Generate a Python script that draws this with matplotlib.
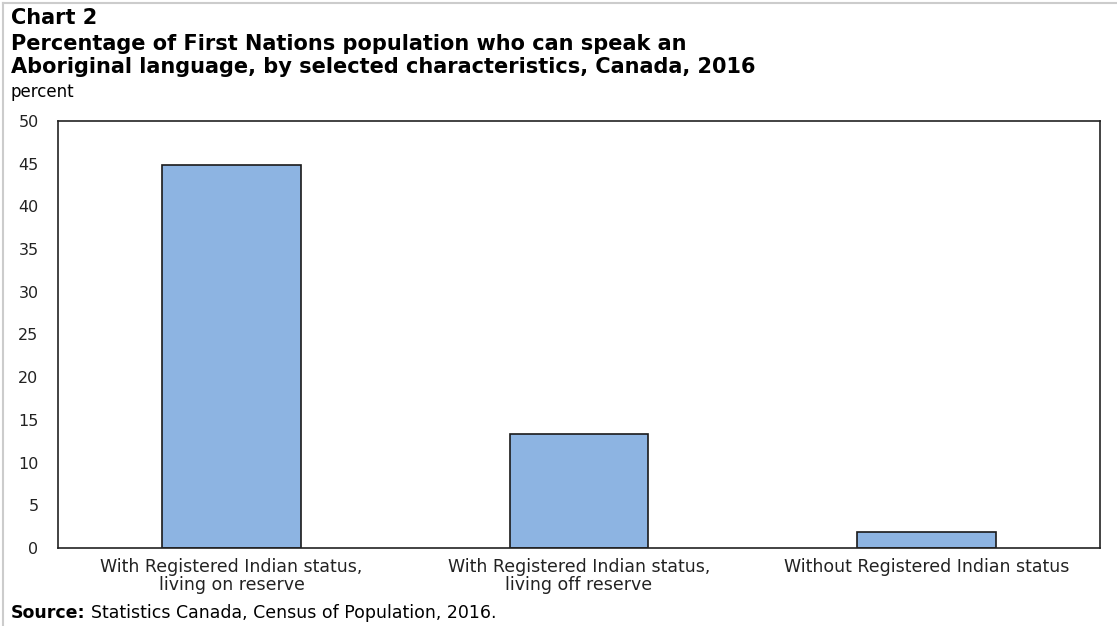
import matplotlib
matplotlib.use("Agg")
import matplotlib.pyplot as plt
import numpy as np

categories = ["With Registered Indian status,\nliving on reserve",
              "With Registered Indian status,\nliving off reserve",
              "Without Registered Indian status"]
values = [44.8, 13.3, 1.9]
yticks = [0, 5, 10, 15, 20, 25, 30, 35, 40, 45, 50]

plt.rcParams["font.family"] = ["DejaVu Sans"]

fig = plt.figure(figsize=(11.17, 6.26), dpi=100)
ax = fig.add_axes([58 / 1117, 1 - 548 / 626, 1042 / 1117, 427 / 626])

x = np.arange(len(categories))
ax.bar(x, values, width=0.4, color="#8DB4E2", edgecolor="#1a1a1a", linewidth=1.2)

ax.set_xlim(-0.5, len(categories) - 0.5)
ax.set_ylim(0, 50)
ax.set_yticks(yticks)
ax.set_xticks(x)
ax.set_xticklabels(categories, fontsize=12.5, color="#222222", linespacing=1.05)
ax.tick_params(axis="y", length=0, pad=14, labelsize=11.5, labelcolor="#222222")
ax.tick_params(axis="x", length=0, pad=7)
for s in ax.spines.values():
    s.set_color("#222222")
    s.set_linewidth(1.2)

fig.text(11 / 1117, 1 - 18 / 626, "Chart 2", fontsize=15, fontweight="bold", va="center")
fig.text(11 / 1117, 1 - 44 / 626, "Percentage of First Nations population who can speak an",
         fontsize=15, fontweight="bold", va="center")
fig.text(11 / 1117, 1 - 67 / 626, "Aboriginal language, by selected characteristics, Canada, 2016",
         fontsize=15, fontweight="bold", va="center")
fig.text(11 / 1117, 1 - 92 / 626, "percent", fontsize=12, va="center")
src = fig.text(11 / 1117, 1 - 613 / 626, "Source:", fontsize=12.5, fontweight="bold", va="center")
fig.canvas.draw()
bb = src.get_window_extent()
fig.text((bb.x1 + 5) / 1117, 1 - 613 / 626, "Statistics Canada, Census of Population, 2016.",
         fontsize=12.5, va="center")

# thin grey page border on the left and top
fig.add_artist(plt.Line2D([3 / 1117, 3 / 1117], [0, 1 - 3 / 626], color="#cccccc", lw=1.5))
fig.add_artist(plt.Line2D([3 / 1117, 1], [1 - 3 / 626, 1 - 3 / 626], color="#cccccc", lw=1.5))

fig.savefig("out.png", dpi=100)
